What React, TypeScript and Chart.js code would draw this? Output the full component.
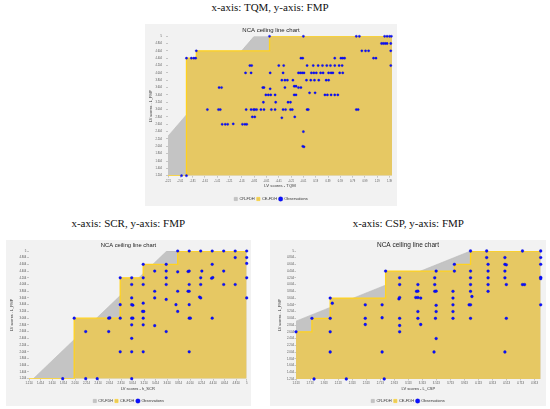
import React, { useEffect, useRef } from "react";
import { Chart, registerables } from "chart.js";

Chart.register(...registerables);
Chart.defaults.font.family = "'Liberation Sans', Arial, sans-serif";

// ---------- data ----------
const panelTitles = ["x-axis: TQM, y-axis: FMP", "x-axis: SCR, y-axis: FMP", "x-axis: CSP, y-axis: FMP"];
const chartTitle = "NCA ceiling line chart";
const legendLabels = ["CR-FDH", "CE-FDH", "Observations"];
const xTitles = ["LV scores - TQM", "LV scores - h_SCR", "LV scores - L_CSP"];
const yTitle = "LV scores - L_FMP";

const yTicks = [1.204, 1.404, 1.604, 1.804, 2.004, 2.204, 2.404, 2.604, 2.804, 3.004, 3.204, 3.404, 3.604, 3.804, 4.004, 4.204, 4.404, 4.604, 4.804, 5];
const tqmXTicks = [-2.21, -2.01, -1.81, -1.61, -1.41, -1.21, -1.01, -0.81, -0.61, -0.41, -0.21, -0.01, 0.19, 0.39, 0.59, 0.79, 0.99, 1.19, 1.39];
const scrXTicks = [1.214, 1.414, 1.614, 1.814, 2.014, 2.214, 2.414, 2.614, 2.814, 3.014, 3.214, 3.414, 3.614, 3.814, 4.014, 4.214, 4.414, 4.614, 4.814, 5];
const cspXTicks = [1.513, 1.713, 1.913, 2.113, 2.313, 2.513, 2.713, 2.913, 3.113, 3.313, 3.513, 3.713, 3.913, 4.113, 4.313, 4.513, 4.713, 4.913];

const yRange = [1.204, 5];
const tqmXRange = [-2.21, 1.43];
const scrXRange = [1.214, 5];
const cspXRange = [1.513, 5];

// ceiling lines
const tqmCR = [[-2.21, 2.28], [-0.81, 5], [1.43, 5]];
const tqmCE = [[-2.21, 1.204], [-1.91, 4.404], [-1.75, 4.604], [-0.56, 5], [1.43, 5]];
const scrCR = [[1.29, 1.204], [3.61, 5], [5, 5]];
const scrCE = [[1.214, 1.204], [2.0, 3.004], [2.8, 4.204], [3.2, 4.604], [3.8, 5], [5, 5]];
const cspCR = [[1.513, 2.92], [4.0, 5], [5, 5]];
const cspCE = [[1.513, 2.604], [1.74, 3.004], [2.0, 3.604], [2.79, 4.404], [3.77, 4.604], [4.0, 5], [5, 5]];

// observations [x, y]
const tqmObs = [
  [-0.56, 5], [-0.01, 5], [0.85, 5], [0.9, 5], [1.31, 5], [1.35, 5], [1.39, 5], [1.42, 5],
  [1.26, 4.804], [1.29, 4.804], [1.32, 4.804], [1.35, 4.804], [1.41, 4.804],
  [-1.75, 4.604], [0.94, 4.604], [1.0, 4.604], [1.05, 4.604], [1.41, 4.604],
  [-1.91, 4.404], [-1.83, 4.404], [-1.79, 4.404], [-1.76, 4.404], [-0.05, 4.404], [-0.02, 4.404], [0.5, 4.404], [0.6, 4.404], [0.63, 4.404], [0.66, 4.404], [1.13, 4.404], [1.17, 4.404],
  [-0.88, 4.204], [-0.85, 4.204], [-0.41, 4.204], [-0.33, 4.204], [0.05, 4.204], [0.15, 4.204], [0.23, 4.204], [0.3, 4.204], [0.37, 4.204], [0.43, 4.204], [0.5, 4.204], [0.57, 4.204], [0.62, 4.204], [1.41, 4.204],
  [-0.95, 4.004], [-0.86, 4.004], [-0.55, 4.004], [-0.34, 4.004], [-0.09, 4.004], [-0.06, 4.004], [-0.03, 4.004], [0.0, 4.004], [0.12, 4.004], [0.16, 4.004], [0.2, 4.004], [0.27, 4.004], [0.31, 4.004], [0.4, 4.004], [0.44, 4.004], [0.47, 4.004], [0.58, 4.004], [0.63, 4.004],
  [-0.36, 3.804], [-0.31, 3.804], [-0.27, 3.804], [-0.18, 3.804], [0.04, 3.804], [0.11, 3.804], [0.17, 3.804], [0.24, 3.804], [0.36, 3.804], [0.4, 3.804],
  [-1.38, 3.604], [-1.34, 3.604], [-0.67, 3.604], [-0.65, 3.604], [-0.31, 3.604], [-0.09, 3.604], [-0.05, 3.604], [-0.16, 3.64], [-0.13, 3.64], [-0.55, 3.57],
  [-0.62, 3.404], [-0.58, 3.404], [-0.54, 3.404], [-0.47, 3.404], [-0.16, 3.404], [-0.13, 3.404], [0.34, 3.404], [0.38, 3.404], [0.44, 3.404], [0.5, 3.404], [0.55, 3.404], [0.09, 3.46], [0.18, 3.46],
  [-0.66, 3.204], [-0.46, 3.204], [-0.26, 3.204], [-0.22, 3.204],
  [-1.57, 3.004], [-1.39, 3.004], [-1.36, 3.004], [-0.94, 3.004], [-0.86, 3.004], [-0.82, 3.004], [-0.8, 3.004], [-0.77, 3.004], [-0.7, 3.004], [-0.65, 3.004], [-0.53, 3.004], [-0.47, 3.004], [-0.34, 3.004], [-0.3, 3.004], [-0.22, 3.004], [-0.19, 3.004], [0.05, 3.004], [0.07, 3.004], [0.85, 3.004], [0.88, 3.004],
  [-0.84, 2.804], [-0.8, 2.804], [-0.36, 2.78], [-0.15, 2.804],
  [-1.33, 2.604], [-1.28, 2.604], [-1.24, 2.604], [-1.15, 2.614], [-1.0, 2.604], [-0.96, 2.604], [-0.93, 2.604],
  [-0.01, 2.404],
  [-0.02, 2.004], [0.0, 1.99],
  [-1.99, 1.204], [-1.91, 1.204],
];

const scrObs = [
  [3.8, 5], [4.0, 5], [4.2, 5], [4.4, 5], [4.6, 5], [4.8, 5], [5.0, 5],
  [4.8, 4.804], [5.0, 4.804],
  [3.2, 4.604], [3.6, 4.604], [4.4, 4.604], [5.0, 4.63],
  [3.4, 4.404], [3.6, 4.404], [3.8, 4.38], [3.98, 4.39], [4.0, 4.404], [4.22, 4.404], [4.6, 4.404],
  [2.8, 4.204], [3.0, 4.204], [3.2, 4.204], [3.6, 4.204], [4.2, 4.204], [4.39, 4.19], [4.41, 4.21], [5.0, 4.204],
  [3.0, 4.004], [3.2, 4.004], [3.6, 4.004], [4.0, 4.004], [4.2, 4.004], [4.6, 4.004], [4.8, 4.004],
  [3.4, 3.804], [3.8, 3.804], [3.98, 3.804], [4.0, 3.804],
  [3.0, 3.604], [3.4, 3.604], [3.6, 3.56], [4.18, 3.63], [4.2, 3.604], [5.0, 3.604],
  [2.8, 3.404], [3.0, 3.404], [3.02, 3.39], [3.2, 3.45], [3.77, 3.404], [4.0, 3.404],
  [3.19, 3.204], [3.21, 3.204], [3.8, 3.204],
  [2.0, 3.004], [2.6, 3.004], [2.62, 3.01], [2.8, 3.004], [3.0, 3.004], [3.02, 3.004], [3.2, 3.004], [4.0, 3.004], [4.02, 3.004], [4.4, 3.004],
  [3.0, 2.804], [3.2, 2.804], [3.4, 2.78],
  [2.2, 2.604], [2.6, 2.604], [3.6, 2.604],
  [3.0, 2.404],
  [2.8, 2.004], [3.0, 2.004], [3.2, 2.004], [4.0, 2.004],
  [1.8, 1.204], [2.2, 1.204], [2.4, 1.204], [3.0, 1.204],
];

const cspObs = [
  [4.0, 5], [4.23, 5], [4.74, 5], [5.0, 5],
  [4.23, 4.804], [4.49, 4.804], [5.0, 4.804],
  [3.77, 4.604], [4.25, 4.604], [4.49, 4.604], [4.51, 4.59], [5.0, 4.604],
  [2.79, 4.404], [3.51, 4.404], [3.77, 4.404], [4.0, 4.404], [4.25, 4.404], [4.49, 4.404],
  [2.99, 4.204], [3.49, 4.204], [4.0, 4.204], [4.25, 4.204], [4.49, 4.204], [5.0, 4.22], [5.0, 4.18],
  [2.99, 4.004], [3.25, 4.004], [3.49, 4.004], [4.0, 4.004], [4.25, 4.004], [4.51, 4.004], [4.74, 4.004], [4.77, 4.004],
  [3.23, 3.804], [3.25, 3.81], [3.49, 3.804], [3.51, 3.81], [3.75, 3.804], [4.0, 3.804], [4.25, 3.804],
  [2.0, 3.604], [2.98, 3.58], [2.99, 3.62], [3.22, 3.62], [3.25, 3.62], [3.29, 3.604], [3.75, 3.604], [4.02, 3.65],
  [2.03, 3.45], [2.5, 3.404], [2.74, 3.404], [3.51, 3.39], [3.75, 3.404], [3.98, 3.404], [4.0, 3.404], [5.0, 3.404],
  [3.25, 3.204], [3.51, 3.204], [3.75, 3.204],
  [1.74, 3.004], [2.0, 3.004], [2.5, 3.004], [2.74, 3.02], [2.99, 3.004], [3.25, 3.004], [3.5, 3.004], [3.75, 3.004], [4.0, 3.004], [4.51, 3.004],
  [2.5, 2.82], [2.99, 2.79], [3.29, 2.82],
  [1.513, 2.604], [2.0, 2.604], [2.99, 2.604],
  [3.51, 2.404],
  [2.0, 2.004], [2.74, 2.004], [3.48, 2.004], [4.49, 2.004],
  [1.77, 1.204], [2.23, 1.204], [2.77, 1.204],
];

// ---------- styles ----------
const PANEL_BG = "#f2f2f2";
const GRAY_FILL = "#c4c4c4";
const GRAY_LINE = "#b8b8b8";
const YELLOW_FILL = "#e6c863";
const YELLOW_LINE = "#ffd21f";
const BLUE = "#0a10ff";
const BLUE_EDGE = "#0000c8";
const TICK_COLOR = "#555";
const TICK_MARK = "#999";
const TEXT = "#333";

type Spec = {
  left: number; top: number; width: number; height: number;
  xRange: number[]; xTicks: number[]; xTitle: string;
  cr: number[][]; ce: number[][]; obs: number[][];
  titleFont: number; titlePadTop: number; titlePadBottom: number;
  yWidth: number; rightWidth: number; xHeight: number;
  legendFont: number; layoutPadBottom: number;
  xTitleFont: number; xTitlePadBottom: number;
  yTitleFont: number; yTitlePadTop: number;
  tickFont: number; xTickLen: number; xTickPad: number; yTickLen: number; yTickPad: number;
  pointRadius: number;
};

const specs: Spec[] = [
  {
    left: 145, top: 24, width: 252, height: 182,
    xRange: tqmXRange, xTicks: tqmXTicks, xTitle: xTitles[0],
    cr: tqmCR, ce: tqmCE, obs: tqmObs,
    titleFont: 6, titlePadTop: 2.4, titlePadBottom: 2.7,
    yWidth: 23, rightWidth: 5, xHeight: 19.3,
    legendFont: 4, layoutPadBottom: -5,
    xTitleFont: 4.2, xTitlePadBottom: 6.5,
    yTitleFont: 3.8, yTitlePadTop: 3.7,
    tickFont: 2.6, xTickLen: 2, xTickPad: 1.6, yTickLen: 2, yTickPad: 4,
    pointRadius: 1.15,
  },
  {
    left: 6, top: 240, width: 245, height: 166,
    xRange: scrXRange, xTicks: scrXTicks, xTitle: xTitles[1],
    cr: scrCR, ce: scrCE, obs: scrObs,
    titleFont: 5.8, titlePadTop: 2.2, titlePadBottom: 1.84,
    yWidth: 23, rightWidth: 4.3, xHeight: 18.4,
    legendFont: 3.8, layoutPadBottom: -6.9,
    xTitleFont: 4, xTitlePadBottom: 5.5,
    yTitleFont: 3.8, yTitlePadTop: 4.0,
    tickFont: 2.8, xTickLen: 2, xTickPad: 1.1, yTickLen: 2, yTickPad: 0.6,
    pointRadius: 1.35,
  },
  {
    left: 270, top: 240, width: 276, height: 166,
    xRange: cspXRange, xTicks: cspXTicks, xTitle: xTitles[2],
    cr: cspCR, ce: cspCE, obs: cspObs,
    titleFont: 6.5, titlePadTop: 1.1, titlePadBottom: 2.1,
    yWidth: 26, rightWidth: 5.3, xHeight: 18,
    legendFont: 4, layoutPadBottom: -7,
    xTitleFont: 4, xTitlePadBottom: 5.6,
    yTitleFont: 3.8, yTitlePadTop: 7.7,
    tickFont: 2.8, xTickLen: 1.5, xTickPad: 1.1, yTickLen: 1.5, yTickPad: 0.5,
    pointRadius: 1.4,
  },
];

const titlePos = [
  { cx: 270, top: 1.8 },
  { cx: 128.3, top: 218.3 },
  { cx: 408.3, top: 218.3 },
];

const fmt = (v: number) => String(Math.round(v * 1000) / 1000);
const pts = (a: number[][]) => a.map(([x, y]) => ({ x, y }));

function makeConfig(s: Spec): any {
  const legendItems = [
    { text: legendLabels[0], fillStyle: GRAY_FILL, strokeStyle: "#a8a8a8", lineWidth: 0.4, pointStyle: "rect", hidden: false, datasetIndex: 0, fontColor: TEXT },
    { text: legendLabels[1], fillStyle: YELLOW_FILL, strokeStyle: YELLOW_LINE, lineWidth: 0.6, pointStyle: "rect", hidden: false, datasetIndex: 1, fontColor: TEXT },
    { text: legendLabels[2], fillStyle: BLUE, strokeStyle: BLUE_EDGE, lineWidth: 0.3, pointStyle: "circle", hidden: false, datasetIndex: 2, fontColor: TEXT },
  ];
  return {
    type: "scatter",
    data: {
      datasets: [
        {
          type: "line", label: legendLabels[0], data: pts(s.cr),
          borderColor: GRAY_LINE, borderWidth: 0.6, backgroundColor: GRAY_FILL,
          fill: "start", pointRadius: 0, tension: 0, order: 3,
        },
        {
          type: "line", label: legendLabels[1], data: pts(s.ce), stepped: "before",
          borderColor: YELLOW_LINE, borderWidth: 1.3, backgroundColor: YELLOW_FILL,
          fill: "start", pointRadius: 0, order: 2,
        },
        {
          type: "scatter", label: legendLabels[2], data: pts(s.obs),
          pointStyle: "circle", pointRadius: s.pointRadius,
          backgroundColor: BLUE, borderColor: BLUE_EDGE, borderWidth: 0.3,
          order: 1, clip: false,
        },
      ],
    },
    options: {
      animation: false,
      responsive: false,
      events: [],
      layout: { padding: { top: 0, left: 0, right: 0, bottom: s.layoutPadBottom } },
      plugins: {
        tooltip: { enabled: false },
        title: {
          display: true, text: chartTitle, color: "#222",
          font: { size: s.titleFont, weight: "normal" },
          padding: { top: s.titlePadTop, bottom: s.titlePadBottom },
        },
        legend: {
          display: true, position: "bottom", align: "center",
          labels: {
            usePointStyle: true, boxWidth: 3.2, boxHeight: 3.2, padding: 2,
            color: TEXT, font: { size: s.legendFont },
            generateLabels: () => legendItems,
          },
        },
      },
      scales: {
        x: {
          type: "linear", position: "bottom", min: s.xRange[0], max: s.xRange[1],
          afterBuildTicks: (ax: any) => { ax.ticks = s.xTicks.map((v) => ({ value: v })); },
          afterFit: (ax: any) => { ax.height = s.xHeight; },
          ticks: {
            font: { size: s.tickFont }, color: TICK_COLOR, padding: s.xTickPad,
            autoSkip: false, maxRotation: 0, minRotation: 0,
            callback: (v: number) => fmt(v),
          },
          grid: { display: true, drawOnChartArea: false, drawTicks: true, tickLength: s.xTickLen, color: TICK_MARK, lineWidth: 0.5 },
          border: { display: false },
          title: {
            display: true, text: s.xTitle, color: TEXT, font: { size: s.xTitleFont },
            padding: { top: 0, bottom: s.xTitlePadBottom },
          },
        },
        y: {
          type: "linear", position: "left", min: yRange[0], max: yRange[1],
          afterBuildTicks: (ax: any) => { ax.ticks = yTicks.map((v) => ({ value: v })); },
          afterFit: (ax: any) => { ax.width = s.yWidth; },
          ticks: {
            font: { size: s.tickFont }, color: TICK_COLOR, padding: s.yTickPad,
            autoSkip: false, callback: (v: number) => fmt(v),
          },
          grid: { display: true, drawOnChartArea: false, drawTicks: true, tickLength: s.yTickLen, color: TICK_MARK, lineWidth: 0.5 },
          border: { display: false },
          title: {
            display: true, text: yTitle, color: TEXT, font: { size: s.yTitleFont },
            padding: { top: s.yTitlePadTop, bottom: 0 },
          },
        },
        y2: {
          type: "linear", position: "right", axis: "y", display: true,
          grid: { display: false }, ticks: { display: false }, border: { display: false },
          afterFit: (ax: any) => { ax.width = s.rightWidth; },
        },
      },
    },
  };
}

function Panel({ spec }: { spec: Spec }) {
  const ref = useRef<HTMLCanvasElement | null>(null);
  useEffect(() => {
    if (!ref.current) return;
    const chart = new Chart(ref.current, makeConfig(spec));
    return () => chart.destroy();
  }, [spec]);
  return (
    <div
      style={{
        position: "absolute", left: spec.left, top: spec.top,
        width: spec.width, height: spec.height, background: PANEL_BG,
      }}
    >
      <canvas
        ref={ref}
        width={spec.width}
        height={spec.height}
        style={{ display: "block", width: spec.width, height: spec.height }}
      />
    </div>
  );
}

export default function App() {
  return (
    <div
      style={{
        position: "absolute", left: 0, top: 0, width: 550, height: 409,
        background: "#ffffff", overflow: "hidden",
      }}
    >
      {panelTitles.map((t, i) => (
        <div
          key={t}
          style={{
            position: "absolute", left: titlePos[i].cx - 100, top: titlePos[i].top,
            width: 200, textAlign: "center", whiteSpace: "nowrap",
            fontFamily: "'Liberation Serif', 'Times New Roman', serif",
            fontSize: 11, lineHeight: "11px", color: "#111",
          }}
        >
          {t}
        </div>
      ))}
      {specs.map((s, i) => (
        <Panel key={i} spec={s} />
      ))}
    </div>
  );
}
